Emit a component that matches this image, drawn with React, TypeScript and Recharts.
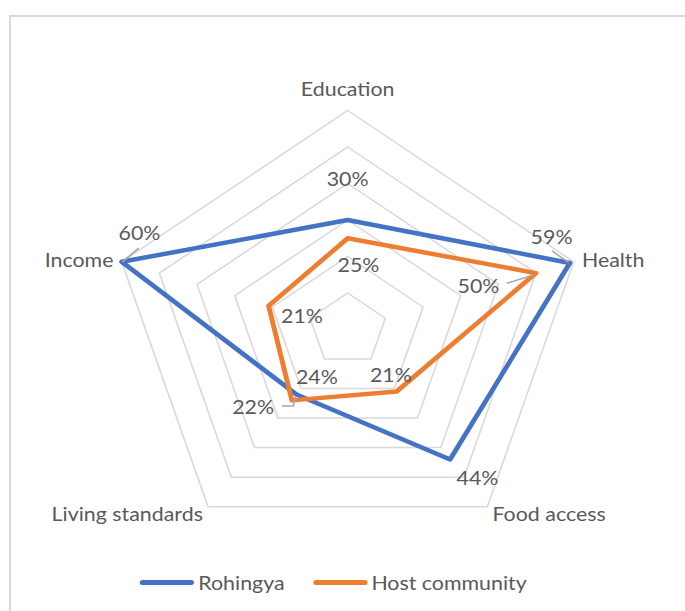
import React from 'react';
import { RadarChart, Radar, PolarGrid, PolarAngleAxis, PolarRadiusAxis, Legend } from 'recharts';

const categories = ['Education', 'Health', 'Food access', 'Living standards', 'Income'];
const rohingya = [30, 59, 44, 22, 60];
const hostCommunity = [25, 50, 21, 24, 21];
const seriesNames = ['Rohingya', 'Host community'];
const radiusDomain = [0, 60];

const data = categories.map((c, i) => ({ axis: c, rohingya: rohingya[i], host: hostCommunity[i] }));

const FONT = 'Lato, "Noto Sans", sans-serif';
const FS = 19.7;
const TEXT = '#595959';
const BLUE = '#4472C4';
const ORANGE = '#ED7D31';
const CX = 347.7;
const CY = 329.5;
const STRETCH = 1.085;

const blueOffsets: number[][] = [[0, -42], [-16.9, -27], [25.2, 17.7], [-39.9, 12.2], [16.4, -29.4]];
const blueLeaders: (number[][] | null)[] = [
  null,
  [[-16.4, -12], [-1.1, -0.3]],
  null,
  [[-13.5, 11.5], [-2.8, 11.5], [-1.2, 2.2]],
  [[15.7, -13.7], [0.6, 0]],
];
const orangeOffsets: number[][] = [[10, 25.7], [-53, 12], [-5.2, -16.7], [23.1, -24.3], [30.8, 10]];
const orangeLeaders: (number[][] | null)[] = [null, [[-26.8, 10.2], [-2.6, 1.9]], null, null, null];

const tickDy = [-14, 0, 0, 0, 0];

const makeLabelDot = (offsets: number[][], leaders: (number[][] | null)[]) => (props: any) => {
  const { cx, cy, index, payload, dataKey } = props;
  const v = typeof payload?.value === 'number' ? payload.value : payload?.[dataKey];
  const [dx, dy] = offsets[index];
  const lead = leaders[index];
  return (
    <g key={`lbl-${dataKey}-${index}`}>
      {lead && (
        <polyline
          points={lead.map(([lx, ly]) => `${cx + lx},${cy + ly}`).join(' ')}
          fill="none"
          stroke="#a6a6a6"
          strokeWidth={1.5}
        />
      )}
      <text
        x={cx + dx}
        y={cy + dy}
        textAnchor="middle"
        dominantBaseline="central"
        fill={TEXT}
        fontSize={FS}
        fontFamily={FONT}
      >
        {`${v}%`}
      </text>
    </g>
  );
};

const AngleTick = (props: any) => {
  const { x, y, payload, textAnchor, index } = props;
  return (
    <text
      x={x}
      y={y + (tickDy[index] || 0)}
      textAnchor={textAnchor}
      dominantBaseline="central"
      fill={TEXT}
      fontSize={FS}
      fontFamily={FONT}
    >
      {payload.value}
    </text>
  );
};

const renderLegend = (props: any) => {
  const payload: any[] = props.payload || [];
  const ordered = seriesNames
    .map((n) => payload.find((p) => p.value === n))
    .filter(Boolean);
  return (
    <div style={{ display: 'flex', alignItems: 'center', height: 22, fontFamily: FONT, fontSize: FS, color: TEXT, whiteSpace: 'nowrap' }}>
      {ordered.map((p: any, i: number) => (
        <div key={i} style={{ display: 'flex', alignItems: 'center', marginRight: i === 0 ? 26 : 0 }}>
          <span style={{ display: 'inline-block', width: 50, height: 4.5, borderRadius: 3, background: p.color, marginRight: 4 }} />
          <span>{p.value}</span>
        </div>
      ))}
    </div>
  );
};

export default function App() {
  return (
    <div style={{ position: 'absolute', left: 0, top: 0, width: 685, height: 611, overflow: 'hidden', background: '#fff' }}>
      <div
        style={{
          position: 'absolute',
          left: 9,
          top: 15,
          width: 800,
          height: 800,
          border: '2px solid #d9d9d9',
          boxSizing: 'border-box',
        }}
      />
      <div
        style={{
          position: 'absolute',
          left: 0,
          top: 0,
          width: 685,
          height: 611,
          transform: `scaleX(${STRETCH})`,
          transformOrigin: `${CX}px 0px`,
        }}
      >
        <RadarChart width={685} height={611} data={data} cx={CX} cy={CY} outerRadius={219} margin={{ top: 0, right: 0, bottom: 0, left: 0 }}>
          <PolarGrid gridType="polygon" radialLines={false} stroke="#d9d9d9" strokeWidth={1.5} />
          <PolarAngleAxis dataKey="axis" tick={<AngleTick />} tickLine={false} axisLine={false} />
          <PolarRadiusAxis domain={radiusDomain} tickCount={7} tick={false} axisLine={false} />
          <Radar
            name={seriesNames[0]}
            dataKey="rohingya"
            stroke={BLUE}
            strokeWidth={4.5}
            strokeLinejoin="round"
            fill="none"
            fillOpacity={0}
            dot={makeLabelDot(blueOffsets, blueLeaders)}
            isAnimationActive={false}
          />
          <Radar
            name={seriesNames[1]}
            dataKey="host"
            stroke={ORANGE}
            strokeWidth={4.5}
            strokeLinejoin="round"
            fill="none"
            fillOpacity={0}
            dot={makeLabelDot(orangeOffsets, orangeLeaders)}
            isAnimationActive={false}
          />
          <Legend
            content={renderLegend}
            wrapperStyle={{ position: 'absolute', left: 156, top: 571.7, width: 'auto', height: 22 }}
          />
        </RadarChart>
      </div>
    </div>
  );
}
